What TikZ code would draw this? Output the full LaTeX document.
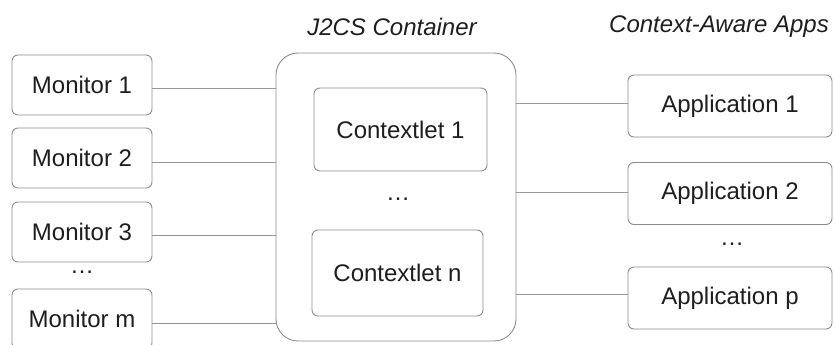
\documentclass[tikz,border=0pt]{standalone}
\usepackage{fontspec}
\setmainfont{Liberation Sans}
\definecolor{boxline}{RGB}{140,140,140}
\definecolor{wire}{RGB}{150,150,150}
\definecolor{ink}{RGB}{30,30,30}
\begin{document}
\begin{tikzpicture}[x=1pt,y=-1pt,
  font=\fontsize{24}{28}\selectfont,
  every node/.style={text=ink},
  box/.style={draw=boxline,line width=0.9pt,rounded corners=6pt,inner sep=0pt,fill=white},
  mon/.style={box,minimum width=140pt,minimum height=60pt},
  app/.style={box,minimum width=204pt,minimum height=62pt},
  wireline/.style={draw=wire,line width=0.9pt},
  title/.style={font=\fontsize{24}{28}\selectfont\itshape}]
\useasboundingbox (0,0) rectangle (835,345);
\clip (0,0) rectangle (835,345);
% titles
\node[title] (t1) at (392,27) {J2CS Container};
\node[title] (t2) at (719,27) {Context-Aware Apps};
% container
\node[draw=boxline,line width=0.9pt,rounded corners=22pt,minimum width=240pt,minimum height=288pt,inner sep=0pt] (cont) at (396,197) {};
\node[box,minimum width=173pt,minimum height=83pt] (c1) at (400.5,129.5) {Contextlet 1};
\node[box,minimum width=171pt,minimum height=86pt] (cn) at (397.5,273) {Contextlet n};
\node (cd) at (398,199) {\dots};
% monitors
\node[mon] (m1) at (82,85) {Monitor 1};
\node[mon] (m2) at (82,158) {Monitor 2};
\node[mon] (m3) at (82,232) {Monitor 3};
\node (md) at (82,272) {\dots};
\node[mon] (mm) at (82,319) {Monitor m};
% apps
\node[app] (a1) at (730,106) {Application 1};
\node[app] (a2) at (730,193.5) {Application 2};
\node (ad) at (732,244) {\dots};
\node[app] (ap) at (730,298) {Application p};
% connectors
\foreach \m/\d in {m1/3,m2/4,m3/3,mm/4}{
  \draw[wireline] ([yshift=-\d pt]\m.east) -- ([yshift=-\d pt]\m.east -| cont.west);
}
\foreach \a/\d in {a1/3,a2/1.5,ap/4}{
  \draw[wireline] ([yshift=\d pt]\a.west) -- ([yshift=\d pt]\a.west -| cont.east);
}
\end{tikzpicture}
\end{document}
